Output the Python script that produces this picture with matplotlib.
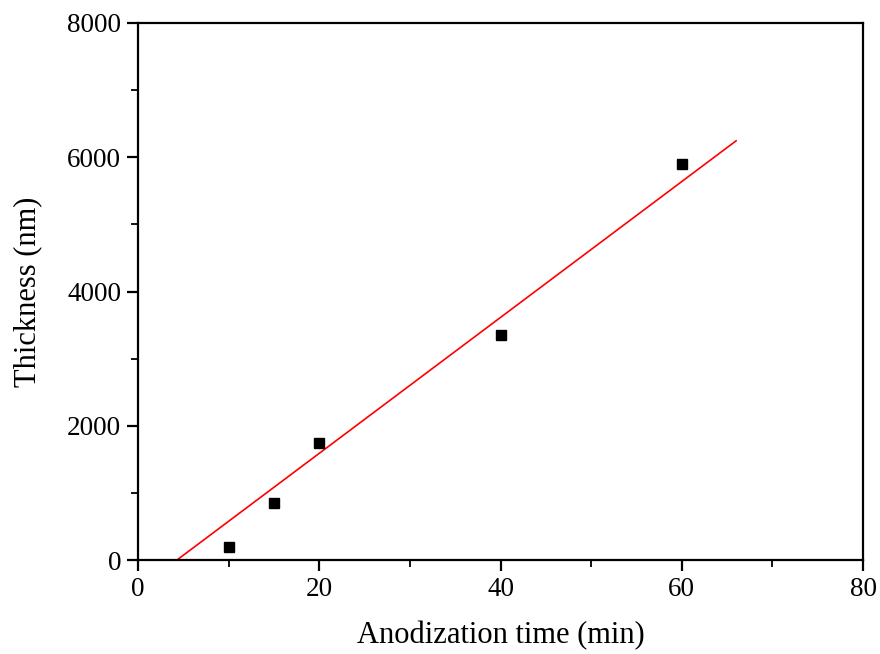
import matplotlib
matplotlib.use('Agg')
import matplotlib.pyplot as plt
from matplotlib.ticker import MultipleLocator

# anodization time (min) vs oxide thickness (nm)
time_min = [10, 15, 20, 40, 60]
thickness_nm = [200, 850, 1750, 3350, 5900]

# linear fit line endpoints
fit_x = [4.3, 66.0]
fit_y = [0, 6245]

plt.rcParams['font.family'] = ['Liberation Serif', 'DejaVu Serif']

fig = plt.figure(figsize=(8.8, 6.54), dpi=100)
ax = fig.add_axes([138/880, 1-560/654, 725/880, 537/654])

ax.plot(fit_x, fit_y, color='red', lw=1.2, zorder=2)
ax.plot(time_min, thickness_nm, 's', color='black', ms=7.5, zorder=3)

ax.set_xlim(0, 80)
ax.set_ylim(0, 8000)
ax.xaxis.set_major_locator(MultipleLocator(20))
ax.xaxis.set_minor_locator(MultipleLocator(10))
ax.yaxis.set_major_locator(MultipleLocator(2000))
ax.yaxis.set_minor_locator(MultipleLocator(1000))

for s in ax.spines.values():
    s.set_linewidth(1.6)
ax.tick_params(which='major', direction='out', length=8, width=1.6,
               labelsize=19.5, pad=4, top=False, right=False)
ax.tick_params(which='minor', direction='out', length=5, width=1.3,
               top=False, right=False)

ax.set_xlabel('Anodization time (min)', fontsize=22, labelpad=14)
ax.set_ylabel('Thickness (nm)', fontsize=22, labelpad=18)

fig.savefig('out.png', dpi=100)
